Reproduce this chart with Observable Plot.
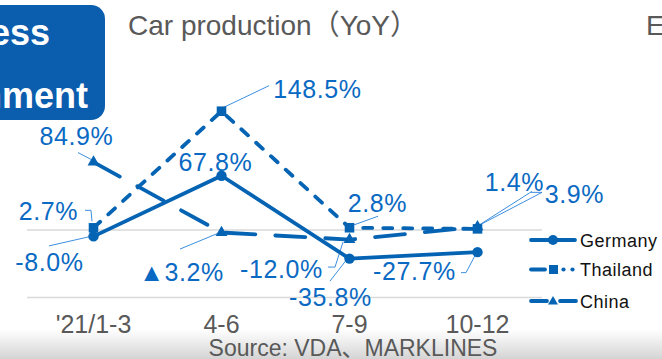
<!DOCTYPE html>
<html><head><meta charset="utf-8">
<script src="https://cdn.jsdelivr.net/npm/d3@7"></script>
<script src="https://cdn.jsdelivr.net/npm/@observablehq/plot@0.6"></script>
<style>
body{margin:0;background:#fff;}
#wrap{position:relative;width:662px;height:359px;overflow:hidden;background:#fff;font-family:"Liberation Sans",Arial,"Noto Sans CJK JP",sans-serif;}
#bg{position:absolute;left:0;top:0;}
#chart{position:absolute;left:0;top:0;}
#chart svg{overflow:visible;}
.vlabel text{letter-spacing:0.6px;}
</style></head>
<body>
<div id="wrap">
<svg id="bg" width="662" height="359" xmlns="http://www.w3.org/2000/svg">
  <defs>
    <linearGradient id="shade" x1="0" y1="0" x2="0" y2="1">
      <stop offset="0" stop-color="#ffffff"/>
      <stop offset="0.35" stop-color="#f1f1f1"/>
      <stop offset="1" stop-color="#d4d4d4"/>
    </linearGradient>
  </defs>
  <rect x="0" y="329" width="662" height="30" fill="url(#shade)"/>
  <rect x="-30" y="5" width="135" height="115" rx="14" ry="14" fill="#0b5dae"/>
  <text x="50" y="45" text-anchor="end" font-size="36" font-weight="bold" fill="#fff" font-family="Liberation Sans, Arial, sans-serif">Business</text>
  <text x="88" y="108" text-anchor="end" font-size="36" font-weight="bold" fill="#fff" font-family="Liberation Sans, Arial, sans-serif">Environment</text>
  <text x="128" y="35" font-size="28" fill="#595959" font-family="Liberation Sans, Arial, Noto Sans CJK JP, sans-serif">Car production（YoY）</text>
  <text x="646" y="35" font-size="28" fill="#595959" font-family="Liberation Sans, Arial, sans-serif">E</text>
  <text x="353" y="356" text-anchor="middle" font-size="23" fill="#595959" font-family="Liberation Sans, Arial, Noto Sans CJK JP, sans-serif">Source: VDA、MARKLINES</text>
  <g id="legend" font-family="Liberation Sans, Arial, sans-serif" font-size="18" fill="#111" letter-spacing="0.5"></g>
</svg>
<div id="chart"></div>
</div>
<script>
// ---- data ----
const quarters = ["'21/1-3", "4-6", "7-9", "10-12"];
const seriesNames = ["Germany", "Thailand", "China"];
const germany = [-8.0, 67.8, -35.8, -27.7];
const thailand = [2.7, 148.5, 2.8, 1.4];
const china = [84.9, -3.2, -12.0, 3.9];
const germanyLabels = ["-8.0%", "67.8%", "-35.8%", "-27.7%"];
const thailandLabels = ["2.7%", "148.5%", "2.8%", "1.4%"];
const chinaLabels = ["84.9%", "▲3.2%", "-12.0%", "3.9%"];
const yDomain = [-84.4, 150];

// ---- styling / placement ----
const lineBlue = "#0563b3";
const labelBlue = "#0a6ac3";
const leaderBlue = "#3d8fe0";
const labelOffsets = {
  Germany: [[-44, 27], [-6, -13], [-19, 39], [-63, 20]],
  Thailand: [[-45, -16], [96, -21], [28, -24], [37, -46]],
  China: [[-17, -25], [-40, 40], [-68, 30], [97, -32]]
};
const leaderPaths = {
  Germany: [[[0, 0], [-44, 10]], null, [[-2, 1], [-19, 23]], [[-1, 2], [-11, 21], [-16, 21]]],
  Thailand: [[[-1, -6], [-2, -17], [-8, -17]], [[2, -3], [48, -25]], [[4, -2], [29, -11]], [[0, -2], [55, -37]]],
  China: [[[4, 1], [-15, -9]], [[0, 0], [-41, 17]], [[-6, 3], [-14, 28], [-21, 28]], [[0, 0], [65, -34], [54, -34]]]
};
const styles = {
  Germany: {dash: null, symbol: "circle", r: 5.2},
  Thailand: {dash: "9,11", symbol: "square", r: 5.4},
  China: {dash: "30,20", symbol: "triangle", r: 4.4}
};

const valuesBy = {Germany: germany, Thailand: thailand, China: china};
const labelsBy = {Germany: germanyLabels, Thailand: thailandLabels, China: chinaLabels};
const rows = seriesNames.flatMap(s => quarters.map((q, i) => ({series: s, q, i, v: valuesBy[s][i], label: labelsBy[s][i]})));

const marks = [
  Plot.ruleY([0, yDomain[0]], {stroke: "#d9d9d9", strokeWidth: 1.3}),
  Plot.axisX({tickSize: 0, tickPadding: 18, fontSize: 25, color: "#595959", label: null, fontFamily: "Liberation Sans, Arial, sans-serif"})
];
// leader lines
marks.push((index, scales) => {
  const g = d3.create("svg:g");
  for (const s of seriesNames) {
    leaderPaths[s].forEach((pts, i) => {
      if (!pts) return;
      const x0 = scales.x(quarters[i]), y0 = scales.y(valuesBy[s][i]);
      g.append("path")
        .attr("d", "M" + pts.map(([dx, dy]) => `${x0 + dx},${y0 + dy}`).join("L"))
        .attr("fill", "none").attr("stroke", leaderBlue).attr("stroke-width", 1);
    });
  }
  return g.node();
});
for (const s of seriesNames) {
  const data = rows.filter(d => d.series === s);
  marks.push(Plot.line(data, {x: "q", y: "v", stroke: lineBlue, strokeWidth: 3.8,
    strokeDasharray: styles[s].dash || undefined, strokeLinecap: "round", strokeLinejoin: "round"}));
}
for (const s of seriesNames) {
  const data = rows.filter(d => d.series === s);
  marks.push(Plot.dot(data, {x: "q", y: "v", symbol: styles[s].symbol, r: styles[s].r, fill: lineBlue, stroke: "none"}));
}
for (const d of rows) {
  const [dx, dy] = labelOffsets[d.series][d.i];
  marks.push(Plot.text([d], {x: "q", y: "v", text: "label", dx, dy, fontSize: 25, fill: labelBlue,
    className: "vlabel", fontFamily: "Liberation Sans, Arial, sans-serif"}));
}

const chart = Plot.plot({
  width: 662, height: 359,
  marginLeft: 27, marginRight: 120, marginTop: 109.5, marginBottom: 62,
  x: {type: "point", domain: quarters, padding: 0.5},
  y: {domain: yDomain, axis: null},
  style: {background: "transparent", overflow: "visible"},
  marks
});
document.getElementById("chart").appendChild(chart);

// legend
const lg = d3.select("#legend");
const legendY = {Germany: 240, Thailand: 269.5, China: 301};
for (const s of seriesNames) {
  const y = legendY[s];
  if (s === "Germany") {
    lg.append("line").attr("x1", 531).attr("x2", 575).attr("y1", y).attr("y2", y).attr("stroke", lineBlue).attr("stroke-width", 3.8).attr("stroke-linecap", "round");
    lg.append("circle").attr("cx", 553).attr("cy", y).attr("r", 5).attr("fill", lineBlue);
  } else if (s === "Thailand") {
    lg.append("line").attr("x1", 531).attr("x2", 545).attr("y1", y).attr("y2", y).attr("stroke", lineBlue).attr("stroke-width", 3.8).attr("stroke-linecap", "round");
    lg.append("rect").attr("x", 549).attr("y", y - 4.5).attr("width", 9).attr("height", 9).attr("fill", lineBlue);
    lg.append("circle").attr("cx", 563.5).attr("cy", y).attr("r", 2.1).attr("fill", lineBlue);
    lg.append("circle").attr("cx", 572.5).attr("cy", y).attr("r", 2.1).attr("fill", lineBlue);
  } else {
    lg.append("line").attr("x1", 531).attr("x2", 547).attr("y1", y).attr("y2", y).attr("stroke", lineBlue).attr("stroke-width", 3.8).attr("stroke-linecap", "round");
    lg.append("line").attr("x1", 560).attr("x2", 576).attr("y1", y).attr("y2", y).attr("stroke", lineBlue).attr("stroke-width", 3.8).attr("stroke-linecap", "round");
    lg.append("path").attr("d", `M553,${y - 5}L558,${y + 3.5}L548,${y + 3.5}Z`).attr("fill", lineBlue);
  }
  lg.append("text").attr("x", 580).attr("y", y + 6.5).text(s);
}
</script>
</body></html>
